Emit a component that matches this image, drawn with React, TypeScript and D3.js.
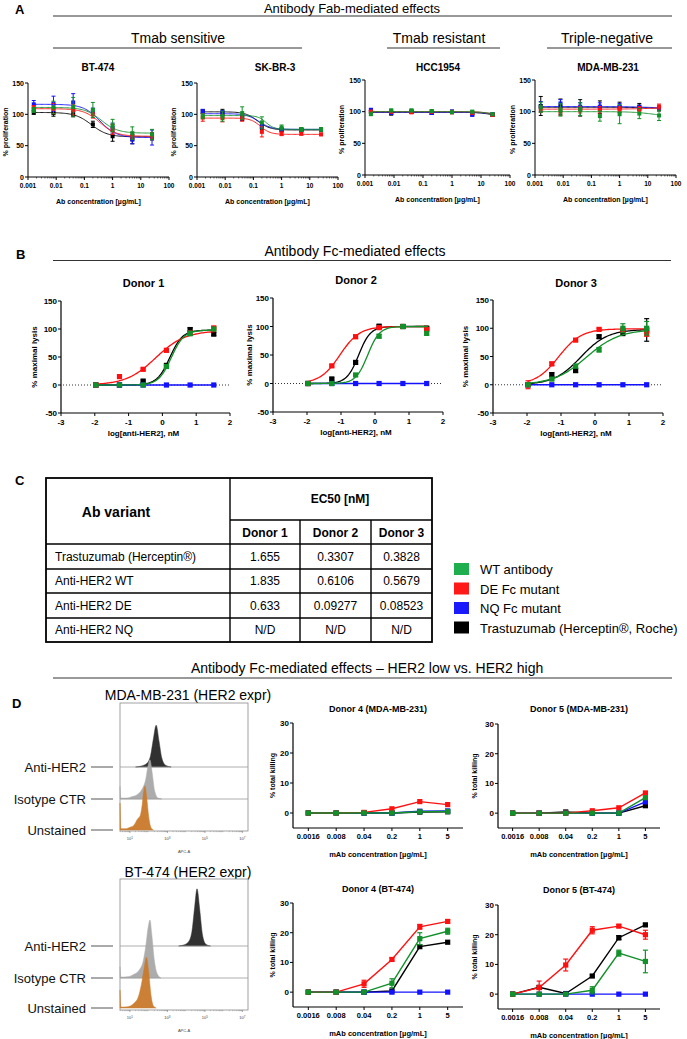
import React from 'react';
import * as d3 from 'd3';

const FONT = "'Liberation Sans', Arial, Helvetica, sans-serif";

// ---------------- colours / legend ----------------
const seriesKeys = ['tm', 'nq', 'de', 'wt'];
const seriesColors: Record<string, string> = { wt: '#12902a', de: '#ff1010', nq: '#1212ff', tm: '#000000' };
const legendLabels = ['WT antibody', 'DE Fc mutant', 'NQ Fc mutant', 'Trastuzumab (Herceptin®, Roche)'];
const legendColors = ['#1fae4e', '#ff1a1a', '#1a1aff', '#000000'];

// ---------------- Panel A : Fab-mediated proliferation ----------------
const concA = [0.0016, 0.008, 0.04, 0.2, 1, 5, 25];
const aTickVals = [0.001, 0.01, 0.1, 1, 10, 100];
const aTickLabels = ['0.001', '0.01', '0.1', '1', '10', '100'];
const aYTicks = [0, 50, 100, 150];
const aCells = ['BT-474', 'SK-BR-3', 'HCC1954', 'MDA-MB-231'];
const aGroups = ['Tmab sensitive', 'Tmab resistant', 'Triple-negative'];

const bt_wt = [107, 111, 112, 107, 82, 70, 68];
const bt_de = [110, 109, 107, 100, 76, 66, 66];
const bt_nq = [116, 117, 119, 104, 78, 60, 63];
const bt_tm = [103, 102, 100, 84, 65, 60, 65];
const bt_wtErr = [4, 10, 15, 12, 10, 10, 8];
const bt_deErr = [4, 8, 8, 6, 8, 5, 5];
const bt_nqErr = [6, 12, 14, 6, 8, 7, 12];
const bt_tmErr = [3, 5, 4, 5, 8, 7, 6];
// fit parameters: [low-dose plateau, high-dose plateau, logEC50, Hill]
const bt_wtFit = [111, 70, -0.4, 1.5];
const bt_deFit = [109, 65, -0.45, 1.5];
const bt_nqFit = [116, 63, -0.45, 1.5];
const bt_tmFit = [103, 64, -0.75, 1.5];

const sk_wt = [97, 97, 102, 87, 79, 76, 76];
const sk_de = [95, 94, 94, 72, 69, 69, 68];
const sk_nq = [105, 102, 95, 81, 76, 76, 76];
const sk_tm = [104, 103, 95, 80, 75, 75, 75];
const sk_wtErr = [4, 8, 10, 9, 4, 3, 3];
const sk_deErr = [6, 6, 5, 8, 3, 2, 2];
const sk_nqErr = [3, 4, 4, 3, 2, 2, 2];
const sk_tmErr = [3, 5, 5, 4, 3, 2, 2];
const sk_wtFit = [98, 76, -0.55, 3];
const sk_deFit = [94, 68, -0.75, 2.5];
const sk_nqFit = [101, 76, -0.8, 2];
const sk_tmFit = [104, 75, -0.85, 2];

const hc_wt = [96, 102, 102, 101, 99, 100, 96];
const hc_de = [100, 100, 99, 100, 99, 98, 95];
const hc_nq = [103, 98, 100, 98, 100, 95, 96];
const hc_tm = [100, 97, 100, 98, 100, 97, 95];
const hc_wtErr = [2, 2, 2, 2, 2, 2, 2];
const hc_deErr = [2, 2, 2, 2, 2, 2, 2];
const hc_nqErr = [2, 2, 2, 2, 2, 2, 2];
const hc_tmErr = [2, 2, 2, 2, 2, 2, 2];
const hc_wtFit = [100, 95, 1.3, 2];
const hc_deFit = [100, 94, 1.35, 2];
const hc_nqFit = [99, 94, 1.35, 2];
const hc_tmFit = [99, 93, 1.3, 2];

const md_wt = [107, 103, 104, 93, 96, 97, 94];
const md_de = [104, 100, 103, 103, 104, 104, 108];
const md_nq = [108, 113, 108, 108, 108, 106, 106];
const md_tm = [109, 108, 106, 107, 107, 108, 105];
const md_wtErr = [8, 10, 10, 8, 15, 8, 8];
const md_deErr = [5, 6, 5, 5, 4, 4, 4];
const md_nqErr = [8, 6, 6, 6, 5, 4, 3];
const md_tmErr = [15, 12, 13, 10, 8, 5, 4];
const md_wtFit = [100, 92, 1.2, 1.2];
const md_deFit = [104, 107, 1.2, 1];
const md_nqFit = [108, 105, 1.2, 1];
const md_tmFit = [107, 105, 1.0, 1];

// ---------------- Panel B : Fc-mediated lysis ----------------
const logConcB = [-1.97, -1.27, -0.57, 0.12, 0.82, 1.52];
const bXTicks = [-3, -2, -1, 0, 1, 2];
const bYTicks = [-50, 0, 50, 100, 150];
const bDonors = ['Donor 1', 'Donor 2', 'Donor 3'];

const d1_wt = [0, 0, 0, 33, 92, 100];
const d1_de = [0, 15, 28, 62, 93, 102];
const d1_nq = [0, 0, 0, 0, 0, 0];
const d1_tm = [0, 0, 7, 35, 99, 91];
const d1_wtErr = [0, 1, 1, 3, 4, 2];
const d1_deErr = [0, 3, 2, 3, 2, 2];
const d1_nqErr = [0, 0, 0, 0, 0, 0];
const d1_tmErr = [0, 0, 2, 3, 3, 3];

const d2_wt = [0, 0, 15, 83, 100, 88];
const d2_de = [0, 31, 82, 98, 100, 95];
const d2_nq = [0, 0, 0, 0, 0, 0];
const d2_tm = [0, 8, 37, 100, 100, 97];
const d2_wtErr = [0, 0, 2, 3, 2, 3];
const d2_deErr = [0, 2, 3, 2, 2, 2];
const d2_nqErr = [0, 0, 0, 0, 0, 0];
const d2_tmErr = [0, 2, 3, 4, 3, 3];

const d3_wt = [0, 10, 33, 62, 100, 100];
const d3_de = [0, 37, 79, 98, 97, 90];
const d3_nq = [0, 0, 0, 0, 0, 0];
const d3_tm = [0, 18, 25, 85, 92, 97];
const d3_wtErr = [2, 2, 3, 4, 8, 12];
const d3_deErr = [7, 3, 2, 2, 2, 4];
const d3_nqErr = [0, 0, 0, 0, 0, 0];
const d3_tmErr = [2, 3, 3, 3, 5, 20];

// fitted top plateau and Hill slope per donor: [wt, de, tm]
const bTops = [[98, 97, 98], [100, 100, 100], [98, 99, 98]];
const bHills = [[2.3, 1.0, 2.3], [2.5, 1.5, 2.5], [0.9, 1.3, 1.1]];

// ---------------- Panel C : EC50 table ----------------
const ec50Variants = ['Trastuzumab (Herceptin®)', 'Anti-HER2 WT', 'Anti-HER2 DE', 'Anti-HER2 NQ'];
const ec50Donor1 = ['1.655', '1.835', '0.633', 'N/D'];
const ec50Donor2 = ['0.3307', '0.6106', '0.09277', 'N/D'];
const ec50Donor3 = ['0.3828', '0.5679', '0.08523', 'N/D'];

// ---------------- Panel D : HER2 low vs high ----------------
const concD = ['0.0016', '0.008', '0.04', '0.2', '1', '5'];
const dYTicks = [0, 10, 20, 30];

const m4_wt = [0, 0, 0, 0, 0.4, 0.5];
const m4_de = [0, 0, 0.2, 1.4, 3.8, 2.8];
const m4_nq = [0, 0, 0, 0, 0.6, 0.7];
const m4_tm = [0, 0, 0, 0, 0.3, 0.4];
const m5_wt = [0, 0, 0, 0, 0, 5.2];
const m5_de = [0, 0, 0, 0.8, 1.8, 6.8];
const m5_nq = [0, 0, 0, 0, 0, 3.8];
const m5_tm = [0, 0, 0.4, 0, 0, 2.5];
const b4_wt = [0, 0, 0, 3, 18, 20.5];
const b4_de = [0, 0, 2.8, 11, 22, 23.8];
const b4_nq = [0, 0, 0, 0, 0, 0];
const b4_tm = [0, 0, 0, 0.4, 15.3, 16.8];
const b4_wtErr = [0, 0, 0, 1.5, 2, 1];
const b4_deErr = [0, 0, 1.2, 0.5, 0.8, 0.5];
const b5_wt = [0, 0, 0, 1.3, 13.8, 11];
const b5_de = [0, 2.2, 9.8, 21.5, 22.9, 20];
const b5_nq = [0, 0, 0, 0, 0, 0];
const b5_tm = [0, 2.3, 0.2, 6.1, 19, 23.3];
const b5_wtErr = [0, 0, 0, 1.2, 1, 3.8];
const b5_deErr = [0, 2.2, 2, 1.2, 0.5, 1.5];
const b5_tmErr = [0, 0.5, 0.3, 0.4, 0.7, 0.5];
const zeros6 = [0, 0, 0, 0, 0, 0];

// flow histograms: [log10 APC-A, relative count]
const histRowLabels = ['Anti-HER2', 'Isotype CTR', 'Unstained'];
const histTickLogs = [1, 3, 5, 7];
const mdaAnti = [[1.3, 0], [1.6, 2], [1.9, 8], [2.1, 25], [2.25, 62], [2.4, 93], [2.55, 58], [2.7, 20], [2.9, 4], [3.2, 0]];
const mdaIso = [[0.47, 28], [0.52, 2], [0.8, 2], [1.1, 5], [1.4, 10], [1.65, 22], [1.85, 45], [1.97, 75], [2.07, 87], [2.18, 60], [2.32, 18], [2.5, 2], [2.7, 0]];
const mdaUnst = [[0.47, 60], [0.52, 3], [0.8, 3], [1.0, 6], [1.2, 10], [1.4, 24], [1.55, 32], [1.65, 55], [1.73, 85], [1.8, 98], [1.9, 70], [2.0, 30], [2.1, 8], [2.25, 0]];
const btAnti = [[3.6, 0], [3.85, 2], [4.1, 8], [4.3, 30], [4.45, 85], [4.58, 127], [4.72, 82], [4.87, 25], [5.05, 4], [5.3, 0]];
const btIso = [[0.47, 25], [0.52, 2], [0.9, 3], [1.2, 8], [1.5, 18], [1.7, 36], [1.85, 72], [1.97, 112], [2.07, 129], [2.17, 95], [2.3, 40], [2.45, 10], [2.65, 0]];
const btUnst = [[0.47, 40], [0.52, 2], [0.9, 3], [1.2, 10], [1.45, 25], [1.6, 50], [1.75, 86], [1.88, 113], [2.0, 80], [2.12, 30], [2.25, 5], [2.4, 0]];
const histColors = ['#262626', '#a8a8a8', '#c97a2b'];

// ---------------- helpers ----------------
const fourPL = (p: number[], lx: number) => p[0] + (p[1] - p[0]) / (1 + Math.pow(10, (p[2] - lx) * p[3]));

function ErrBar({ x, y1, y2, color, cap, w }: any) {
  if (Math.abs(y1 - y2) < 0.5) return null;
  return (
    <g stroke={color} strokeWidth={w}>
      <line x1={x} x2={x} y1={y1} y2={y2} />
      <line x1={x - cap} x2={x + cap} y1={y1} y2={y1} />
      <line x1={x - cap} x2={x + cap} y1={y2} y2={y2} />
    </g>
  );
}

// ---------------- Panel A plot ----------------
function PlotA({ L, R, T, Z, title, titleX, ylabX, mean, err, fit }: any) {
  const x = d3.scaleLog().domain([0.001, 100]).range([L, R]);
  const y = d3.scaleLinear().domain([0, 150]).range([Z, T]);
  const minors = d3.range(-3, 2).flatMap((e) => d3.range(2, 10).map((k) => k * Math.pow(10, e)));
  const lxs = d3.range(0, 101).map((i) => Math.log10(concA[0]) + (i / 100) * (Math.log10(concA[6]) - Math.log10(concA[0])));
  return (
    <g>
      <text x={titleX} y={71} fontSize={10} fontWeight="bold" textAnchor="middle">{title}</text>
      <line x1={L} x2={L} y1={Z} y2={T} stroke="#000" strokeWidth={1} />
      <line x1={L} x2={R} y1={Z} y2={Z} stroke="#000" strokeWidth={1} />
      {aYTicks.map((v) => (
        <g key={v}>
          <line x1={L - 3} x2={L} y1={y(v)} y2={y(v)} stroke="#000" />
          <text x={L - 4} y={y(v) + 2.5} fontSize={7} fontWeight="bold" textAnchor="end">{v}</text>
        </g>
      ))}
      {minors.map((v, i) => (
        <line key={'m' + i} x1={x(v)} x2={x(v)} y1={Z} y2={Z + 1.5} stroke="#000" strokeWidth={0.6} />
      ))}
      {aTickVals.map((v, i) => (
        <g key={v}>
          <line x1={x(v)} x2={x(v)} y1={Z} y2={Z + 3} stroke="#000" />
          <text x={x(v)} y={Z + 10.5} fontSize={6.5} fontWeight="bold" textAnchor="middle">{aTickLabels[i]}</text>
        </g>
      ))}
      <text x={(L + R) / 2} y={Z + 27} fontSize={7} fontWeight="bold" textAnchor="middle">Ab concentration [µg/mL]</text>
      <text transform={`translate(${ylabX},${(Z + T) / 2 + 2}) rotate(-90)`} fontSize={7} fontWeight="bold" textAnchor="middle">% proliferation</text>
      {seriesKeys.map((k) => {
        const c = seriesColors[k];
        const line = d3.line<number>().x((lx) => x(Math.pow(10, lx))).y((lx) => y(fourPL(fit[k], lx)));
        return (
          <g key={k}>
            <path d={line(lxs) || ''} fill="none" stroke={c} strokeWidth={0.9} />
            {concA.map((cc, i) => (
              <ErrBar key={i} x={x(cc)} y1={y(mean[k][i] - err[k][i])} y2={y(mean[k][i] + err[k][i])} color={c} cap={2} w={1} />
            ))}
            {concA.map((cc, i) => (
              <rect key={'p' + i} x={x(cc) - 2} y={y(mean[k][i]) - 2} width={4} height={4} fill={c} />
            ))}
          </g>
        );
      })}
    </g>
  );
}

// ---------------- Panel B plot ----------------
function PlotB({ L, R, T, Bm, title, titleY, ylabX, mean, err, fits }: any) {
  const x = d3.scaleLinear().domain([-3, 2]).range([L, R]);
  const y = d3.scaleLinear().domain([-50, 150]).range([Bm, T]);
  const lxs = d3.range(0, 101).map((i) => -1.97 + (i / 100) * 3.52);
  return (
    <g>
      <text x={(L + R) / 2 - 2} y={titleY} fontSize={11} fontWeight="bold" textAnchor="middle">{title}</text>
      <line x1={L} x2={L} y1={Bm} y2={T} stroke="#000" strokeWidth={1.2} />
      <line x1={L} x2={R} y1={Bm} y2={Bm} stroke="#000" strokeWidth={1.2} />
      <line x1={L + 2} x2={R} y1={y(0)} y2={y(0)} stroke="#000" strokeWidth={0.8} strokeDasharray="1,2" />
      {bYTicks.map((v) => (
        <g key={v}>
          <line x1={L - 3} x2={L} y1={y(v)} y2={y(v)} stroke="#000" />
          <text x={L - 4} y={y(v) + 3} fontSize={8} fontWeight="bold" textAnchor="end">{v}</text>
        </g>
      ))}
      {bXTicks.map((v) => (
        <g key={v}>
          <line x1={x(v)} x2={x(v)} y1={Bm} y2={Bm + 3} stroke="#000" />
          <text x={x(v)} y={Bm + 12} fontSize={8} fontWeight="bold" textAnchor="middle">{v}</text>
        </g>
      ))}
      <text x={(L + R) / 2 - 2} y={Bm + 23} fontSize={8} fontWeight="bold" textAnchor="middle">log[anti-HER2], nM</text>
      <text transform={`translate(${ylabX},${y(50)}) rotate(-90)`} fontSize={8} fontWeight="bold" textAnchor="middle">% maximal lysis</text>
      {seriesKeys.map((k) => {
        const c = seriesColors[k];
        let d = '';
        if (fits[k]) {
          const line = d3.line<number>().x((lx) => x(lx)).y((lx) => y(fourPL(fits[k], lx)));
          d = line(lxs) || '';
        } else {
          const line = d3.line<number>().x((_, i) => x(logConcB[i])).y((v) => y(v));
          d = line(mean[k]) || '';
        }
        return (
          <g key={k}>
            <path d={d} fill="none" stroke={c} strokeWidth={1.3} />
            {logConcB.map((lc, i) => (
              <ErrBar key={i} x={x(lc)} y1={y(mean[k][i] - err[k][i])} y2={y(mean[k][i] + err[k][i])} color={c} cap={2.5} w={1.2} />
            ))}
            {logConcB.map((lc, i) => (
              <rect key={'p' + i} x={x(lc) - 2.6} y={y(mean[k][i]) - 2.6} width={5.2} height={5.2} fill={c} />
            ))}
          </g>
        );
      })}
    </g>
  );
}

// ---------------- Panel D killing plot ----------------
function PlotD({ L, R, T, Bm, title, titleY, ylabX, mean, err }: any) {
  const x = d3.scalePoint<string>().domain(concD).range([L, R]).padding(0.55);
  const y = d3.scaleLinear().domain([-5, 30]).range([Bm, T]);
  return (
    <g>
      <text x={(L + R) / 2} y={titleY} fontSize={9} fontWeight="bold" textAnchor="middle">{title}</text>
      <line x1={L} x2={L} y1={Bm} y2={T} stroke="#000" strokeWidth={1.2} />
      <line x1={L} x2={R} y1={Bm} y2={Bm} stroke="#000" strokeWidth={1.2} />
      {dYTicks.map((v) => (
        <g key={v}>
          <line x1={L - 3} x2={L} y1={y(v)} y2={y(v)} stroke="#000" />
          <text x={L - 4} y={y(v) + 3} fontSize={8} fontWeight="bold" textAnchor="end">{v}</text>
        </g>
      ))}
      {concD.map((c) => (
        <g key={c}>
          <line x1={x(c)!} x2={x(c)!} y1={Bm} y2={Bm + 3} stroke="#000" />
          <text x={x(c)!} y={Bm + 11} fontSize={7.5} fontWeight="bold" textAnchor="middle">{c}</text>
        </g>
      ))}
      <text x={(L + R) / 2} y={Bm + 29} fontSize={7.5} fontWeight="bold" textAnchor="middle">mAb concentration [µg/mL]</text>
      <text transform={`translate(${ylabX},${y(12.5)}) rotate(-90)`} fontSize={7} fontWeight="bold" textAnchor="middle">% total killing</text>
      {seriesKeys.map((k) => {
        const c = seriesColors[k];
        const line = d3.line<number>().x((_, i) => x(concD[i])!).y((v) => y(v));
        return (
          <g key={k}>
            <path d={line(mean[k]) || ''} fill="none" stroke={c} strokeWidth={1.4} />
            {concD.map((cc, i) => (
              <ErrBar key={i} x={x(cc)!} y1={y(mean[k][i] - err[k][i])} y2={y(mean[k][i] + err[k][i])} color={c} cap={2.5} w={1.2} />
            ))}
            {concD.map((cc, i) => (
              <rect key={'p' + i} x={x(cc)! - 2.6} y={y(mean[k][i]) - 2.6} width={5.2} height={5.2} fill={c} />
            ))}
          </g>
        );
      })}
    </g>
  );
}

// ---------------- flow histogram ----------------
function Histo({ title, titleY, top, bottom, baselines, rows }: any) {
  const x = d3.scaleLinear().domain([0.47, 7.3]).range([120, 248]);
  const h = d3.scaleLinear().domain([0, 100]).range([0, 45]);
  const minors = d3.range(0, 7).flatMap((e) => d3.range(2, 10).map((k) => e + Math.log10(k))).filter((v) => v > 0.47 && v < 7.3);
  return (
    <g>
      <text x={188} y={titleY} fontSize={14} textAnchor="middle">{title}</text>
      <rect x={120} y={top} width={128} height={bottom - top} fill="#fff" stroke="#8a8a8a" strokeWidth={0.8} />
      {rows.map((r: number[][], i: number) => {
        const b = baselines[i];
        const area = d3.area<number[]>().x((d) => x(d[0])).y0(b).y1((d) => b - h(d[1])).curve(d3.curveMonotoneX);
        return (
          <g key={i}>
            <path d={area(r) || ''} fill={histColors[i]} stroke={histColors[i]} strokeWidth={0.5} opacity={0.95} />
            {i < 2 && <line x1={120} x2={248} y1={b} y2={b} stroke="#9a9a9a" strokeWidth={0.8} />}
            <text x={86} y={b + 4.5} fontSize={13} textAnchor="end" fill="#111">{histRowLabels[i]}</text>
            <line x1={91} x2={113} y1={b} y2={b} stroke="#555" strokeWidth={1} />
          </g>
        );
      })}
      {minors.map((v, i) => (
        <line key={i} x1={x(v)} x2={x(v)} y1={bottom} y2={bottom + 1.2} stroke="#777" strokeWidth={0.4} />
      ))}
      {histTickLogs.map((v) => (
        <g key={v}>
          <line x1={x(v)} x2={x(v)} y1={bottom} y2={bottom + 2} stroke="#555" strokeWidth={0.5} />
          <text x={x(v)} y={bottom + 9} fontSize={4} textAnchor="middle" fill="#444">
            10<tspan fontSize={3} dy={-1.5}>{v}</tspan>
          </text>
        </g>
      ))}
      <text x={184} y={bottom + 22} fontSize={4} textAnchor="middle" fill="#444">APC-A</text>
    </g>
  );
}

// ---------------- assemble ----------------
const panelAData = [
  { mean: { wt: bt_wt, de: bt_de, nq: bt_nq, tm: bt_tm }, err: { wt: bt_wtErr, de: bt_deErr, nq: bt_nqErr, tm: bt_tmErr }, fit: { wt: bt_wtFit, de: bt_deFit, nq: bt_nqFit, tm: bt_tmFit } },
  { mean: { wt: sk_wt, de: sk_de, nq: sk_nq, tm: sk_tm }, err: { wt: sk_wtErr, de: sk_deErr, nq: sk_nqErr, tm: sk_tmErr }, fit: { wt: sk_wtFit, de: sk_deFit, nq: sk_nqFit, tm: sk_tmFit } },
  { mean: { wt: hc_wt, de: hc_de, nq: hc_nq, tm: hc_tm }, err: { wt: hc_wtErr, de: hc_deErr, nq: hc_nqErr, tm: hc_tmErr }, fit: { wt: hc_wtFit, de: hc_deFit, nq: hc_nqFit, tm: hc_tmFit } },
  { mean: { wt: md_wt, de: md_de, nq: md_nq, tm: md_tm }, err: { wt: md_wtErr, de: md_deErr, nq: md_nqErr, tm: md_tmErr }, fit: { wt: md_wtFit, de: md_deFit, nq: md_nqFit, tm: md_tmFit } },
];
const aLayout = [
  { L: 28, R: 169, T: 83, Z: 177, tx: 98, yl: 8 },
  { L: 197, R: 338, T: 83, Z: 177, tx: 275, yl: 176 },
  { L: 365, R: 510, T: 80, Z: 175, tx: 438, yl: 344 },
  { L: 535, R: 676, T: 80, Z: 175, tx: 608, yl: 515 },
];

const ec50Cols = [ec50Donor1, ec50Donor2, ec50Donor3];
const bMeans = [
  { wt: d1_wt, de: d1_de, nq: d1_nq, tm: d1_tm },
  { wt: d2_wt, de: d2_de, nq: d2_nq, tm: d2_tm },
  { wt: d3_wt, de: d3_de, nq: d3_nq, tm: d3_tm },
];
const bErrs = [
  { wt: d1_wtErr, de: d1_deErr, nq: d1_nqErr, tm: d1_tmErr },
  { wt: d2_wtErr, de: d2_deErr, nq: d2_nqErr, tm: d2_tmErr },
  { wt: d3_wtErr, de: d3_deErr, nq: d3_nqErr, tm: d3_tmErr },
];
const bFits = bDonors.map((_, di) => ({
  wt: [0, bTops[di][0], Math.log10(parseFloat(ec50Cols[di][1])), bHills[di][0]],
  de: [0, bTops[di][1], Math.log10(parseFloat(ec50Cols[di][2])), bHills[di][1]],
  tm: [0, bTops[di][2], Math.log10(parseFloat(ec50Cols[di][0])), bHills[di][2]],
}));
const bLayout = [
  { L: 61, R: 230, T: 301, Bm: 413, ty: 287, yl: 37 },
  { L: 273, R: 443, T: 298, Bm: 412, ty: 284, yl: 252 },
  { L: 493, R: 663, T: 300, Bm: 413, ty: 287, yl: 468 },
];

const dPlots = [
  { title: 'Donor 4 (MDA-MB-231)', L: 293, R: 463, T: 723, Bm: 828, ty: 712, yl: 275, mean: { wt: m4_wt, de: m4_de, nq: m4_nq, tm: m4_tm }, err: { wt: zeros6, de: zeros6, nq: zeros6, tm: zeros6 } },
  { title: 'Donor 5 (MDA-MB-231)', L: 498, R: 660, T: 724, Bm: 828, ty: 712, yl: 477, mean: { wt: m5_wt, de: m5_de, nq: m5_nq, tm: m5_tm }, err: { wt: zeros6, de: zeros6, nq: zeros6, tm: zeros6 } },
  { title: 'Donor 4  (BT-474)', L: 293, R: 463, T: 903, Bm: 1007, ty: 892, yl: 275, mean: { wt: b4_wt, de: b4_de, nq: b4_nq, tm: b4_tm }, err: { wt: b4_wtErr, de: b4_deErr, nq: zeros6, tm: zeros6 } },
  { title: 'Donor 5  (BT-474)', L: 498, R: 660, T: 905, Bm: 1009, ty: 893, yl: 477, mean: { wt: b5_wt, de: b5_de, nq: b5_nq, tm: b5_tm }, err: { wt: b5_wtErr, de: b5_deErr, nq: zeros6, tm: b5_tmErr } },
];

function Table() {
  const xs = [46, 230, 300, 371, 432];
  const ys = [478, 520, 544, 569, 593, 618, 642];
  const colC = [(xs[1] + xs[2]) / 2, (xs[2] + xs[3]) / 2, (xs[3] + xs[4]) / 2];
  return (
    <g>
      <text x={15} y={485} fontSize={13} fontWeight="bold">C</text>
      <rect x={xs[0]} y={ys[0]} width={xs[4] - xs[0]} height={ys[6] - ys[0]} fill="none" stroke="#000" strokeWidth={1.8} />
      <line x1={xs[1]} x2={xs[1]} y1={ys[0]} y2={ys[6]} stroke="#000" strokeWidth={1.4} />
      <line x1={xs[1]} x2={xs[4]} y1={ys[1]} y2={ys[1]} stroke="#000" strokeWidth={1.4} />
      {[xs[2], xs[3]].map((xx) => (
        <line key={xx} x1={xx} x2={xx} y1={ys[1]} y2={ys[6]} stroke="#000" strokeWidth={1.4} />
      ))}
      {ys.slice(2, 6).map((yy) => (
        <line key={yy} x1={xs[0]} x2={xs[4]} y1={yy} y2={yy} stroke="#000" strokeWidth={1.4} />
      ))}
      <text x={116} y={517} fontSize={14} fontWeight="bold" textAnchor="middle">Ab variant</text>
      <text x={340} y={503} fontSize={12} fontWeight="bold" textAnchor="middle">EC50 [nM]</text>
      {bDonors.map((d, i) => (
        <text key={d} x={colC[i]} y={536.5} fontSize={12} fontWeight="bold" textAnchor="middle">{d}</text>
      ))}
      {ec50Variants.map((v, r) => {
        const cy = (ys[r + 2] + ys[r + 3]) / 2 + 4.3;
        return (
          <g key={v}>
            <text x={55} y={cy} fontSize={12}>{v}</text>
            {ec50Cols.map((col, ci) => (
              <text key={ci} x={colC[ci]} y={cy} fontSize={12} textAnchor="middle">{col[r]}</text>
            ))}
          </g>
        );
      })}
      {legendLabels.map((l, i) => (
        <g key={l}>
          <rect x={454} y={563 + i * 19.5} width={15} height={12} fill={legendColors[i]} />
          <text x={480} y={574 + i * 19.5} fontSize={13}>{l}</text>
        </g>
      ))}
    </g>
  );
}

export default function App() {
  return (
    <svg width={687} height={1039} style={{ position: 'absolute', left: 0, top: 0 }} fontFamily={FONT}>
      <rect width={687} height={1039} fill="#fff" />
      {/* Panel A */}
      <text x={15} y={14} fontSize={13} fontWeight="bold">A</text>
      <text x={352} y={12.5} fontSize={13} textAnchor="middle">Antibody Fab-mediated effects</text>
      <line x1={53} x2={672} y1={16} y2={16} stroke="#333" strokeWidth={1} />
      <text x={178} y={43} fontSize={14} textAnchor="middle">{aGroups[0]}</text>
      <line x1={53} x2={302} y1={48} y2={48} stroke="#333" strokeWidth={1} />
      <text x={439} y={43} fontSize={14} textAnchor="middle">{aGroups[1]}</text>
      <line x1={387} x2={500} y1={48} y2={48} stroke="#333" strokeWidth={1} />
      <text x={607} y={43} fontSize={14} textAnchor="middle">{aGroups[2]}</text>
      <line x1={547} x2={672} y1={48} y2={48} stroke="#333" strokeWidth={1} />
      {aLayout.map((l, i) => (
        <PlotA key={i} L={l.L} R={l.R} T={l.T} Z={l.Z} title={aCells[i]} titleX={l.tx} ylabX={l.yl} {...panelAData[i]} />
      ))}

      {/* Panel B */}
      <text x={16} y={259} fontSize={13} fontWeight="bold">B</text>
      <text x={355} y={256} fontSize={14} textAnchor="middle">Antibody Fc-mediated effects</text>
      <line x1={53} x2={671} y1={260.5} y2={260.5} stroke="#333" strokeWidth={1} />
      {bLayout.map((l, i) => (
        <PlotB key={i} L={l.L} R={l.R} T={l.T} Bm={l.Bm} title={bDonors[i]} titleY={l.ty} ylabX={l.yl} mean={bMeans[i]} err={bErrs[i]} fits={bFits[i]} />
      ))}

      {/* Panel C */}
      <Table />

      {/* Panel D */}
      <text x={191} y={673} fontSize={14}>Antibody Fc-mediated effects – HER2 low vs. HER2 high</text>
      <line x1={53} x2={672} y1={678} y2={678} stroke="#333" strokeWidth={1} />
      <text x={12} y={708} fontSize={13} fontWeight="bold">D</text>
      <Histo title="MDA-MB-231 (HER2 expr)" titleY={700} top={703} bottom={831} baselines={[767, 799, 830]} rows={[mdaAnti, mdaIso, mdaUnst]} />
      <Histo title="BT-474 (HER2 expr)" titleY={877} top={879} bottom={1010} baselines={[946, 978, 1008]} rows={[btAnti, btIso, btUnst]} />
      {dPlots.map((p, i) => (
        <PlotD key={i} L={p.L} R={p.R} T={p.T} Bm={p.Bm} title={p.title} titleY={p.ty} ylabX={p.yl} mean={p.mean} err={p.err} />
      ))}
    </svg>
  );
}
